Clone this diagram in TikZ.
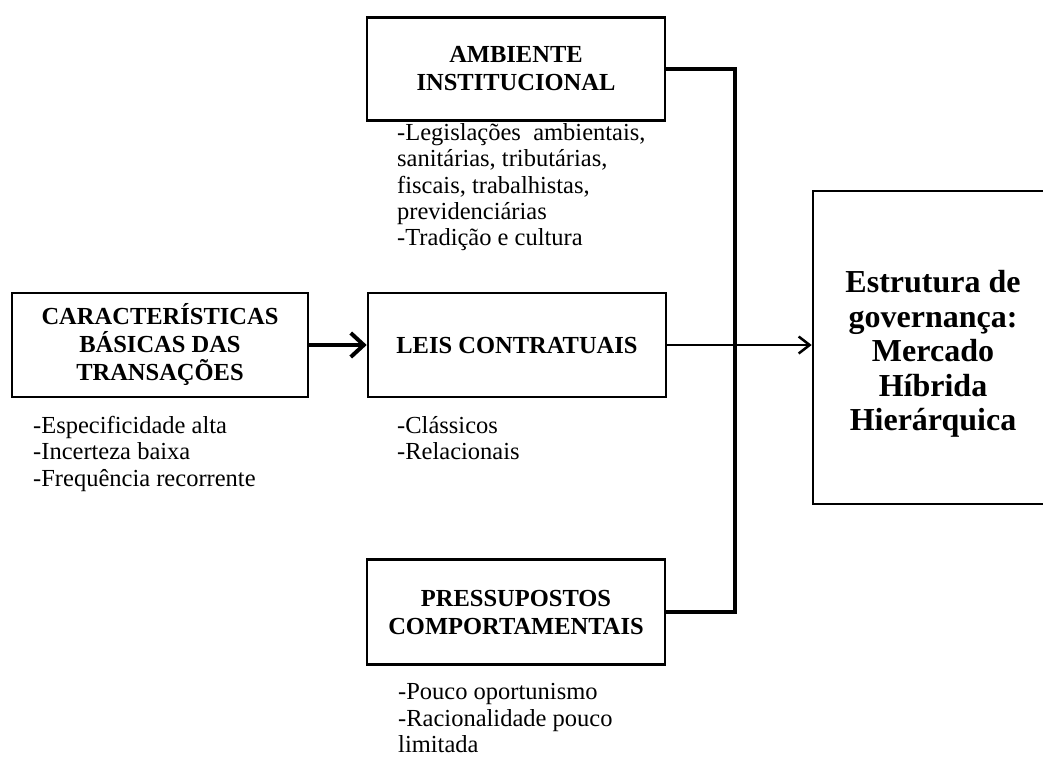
\documentclass[tikz,border=0pt]{standalone}
\usepackage{fontspec}
\setmainfont{Liberation Serif}
\usetikzlibrary{arrows.meta}
\begin{document}
\begin{tikzpicture}[x=1pt,y=-1pt,
  boxnode/.style={draw=black,line width=2.6pt,rectangle,inner sep=0pt,align=center,
     font=\fontsize{24.5}{28}\selectfont\bfseries},
  listline/.style={anchor=base west,inner sep=0pt,font=\fontsize{24.5}{26.5}\selectfont},
  bigtext/.style={inner sep=0pt,align=center,font=\fontsize{32}{34.5}\selectfont\bfseries},
  busline/.style={line width=4pt,line join=miter},
  fatarrow/.style={line width=4pt,-{Straight Barb[length=13pt,width=24pt,line width=4pt]}},
  thinarrow/.style={line width=2.5pt,-{Straight Barb[length=11pt,width=17pt,line width=2.5pt]}}
]
\useasboundingbox (0,0) rectangle (1043,756);
\clip (0,0) rectangle (1043,756);
\fill[white] (0,0) rectangle (1043,756);

% boxes
\node[boxnode,minimum width=296pt,minimum height=104pt] (caract) at (160,345)
  {CARACTERÍSTICAS\\BÁSICAS DAS\\TRANSAÇÕES};
\node[boxnode,minimum width=298pt,minimum height=104pt] (leis) at (517,345)
  {LEIS CONTRATUAIS};
\node[boxnode,minimum width=298pt,minimum height=103pt] (amb) at (516,69)
  {AMBIENTE\\INSTITUCIONAL};
\node[boxnode,minimum width=298pt,minimum height=105pt] (press) at (516,612)
  {PRESSUPOSTOS\\COMPORTAMENTAIS};
\node[boxnode,minimum width=240pt,minimum height=313pt] (estr) at (933,347.5) {};
\node[bigtext] (estrtext) at (933,354)
  {Estrutura de\\governança:\\Mercado\\Híbrida\\Hierárquica};

% lists
\node[listline] (a1) at (397,140) {-Legislações\ \ ambientais,};
\node[listline] (a2) at (397,166) {sanitárias, tributárias,};
\node[listline] (a3) at (397,193) {fiscais, trabalhistas,};
\node[listline] (a4) at (397,219) {previdenciárias};
\node[listline] (a5) at (397,245) {-Tradição e cultura};

\node[listline] (c1) at (33,433) {-Especificidade alta};
\node[listline] (c2) at (33,459) {-Incerteza baixa};
\node[listline] (c3) at (33,486) {-Frequência recorrente};

\node[listline] (l1) at (397,433) {-Clássicos};
\node[listline] (l2) at (397,459) {-Relacionais};

\node[listline] (p1) at (398,699) {-Pouco oportunismo};
\node[listline] (p2) at (398,726) {-Racionalidade pouco};
\node[listline] (p3) at (398,752) {limitada};

% connectors
\coordinate (bus) at (735,0);
\draw[busline] (amb.east) -- (amb.east -| bus) -- (press.east -| bus) -- (press.east);
\draw[fatarrow] (caract.east) -- (leis.west);
\draw[thinarrow] (leis.east) -- (leis.east -| estr.west);
\end{tikzpicture}
\end{document}
